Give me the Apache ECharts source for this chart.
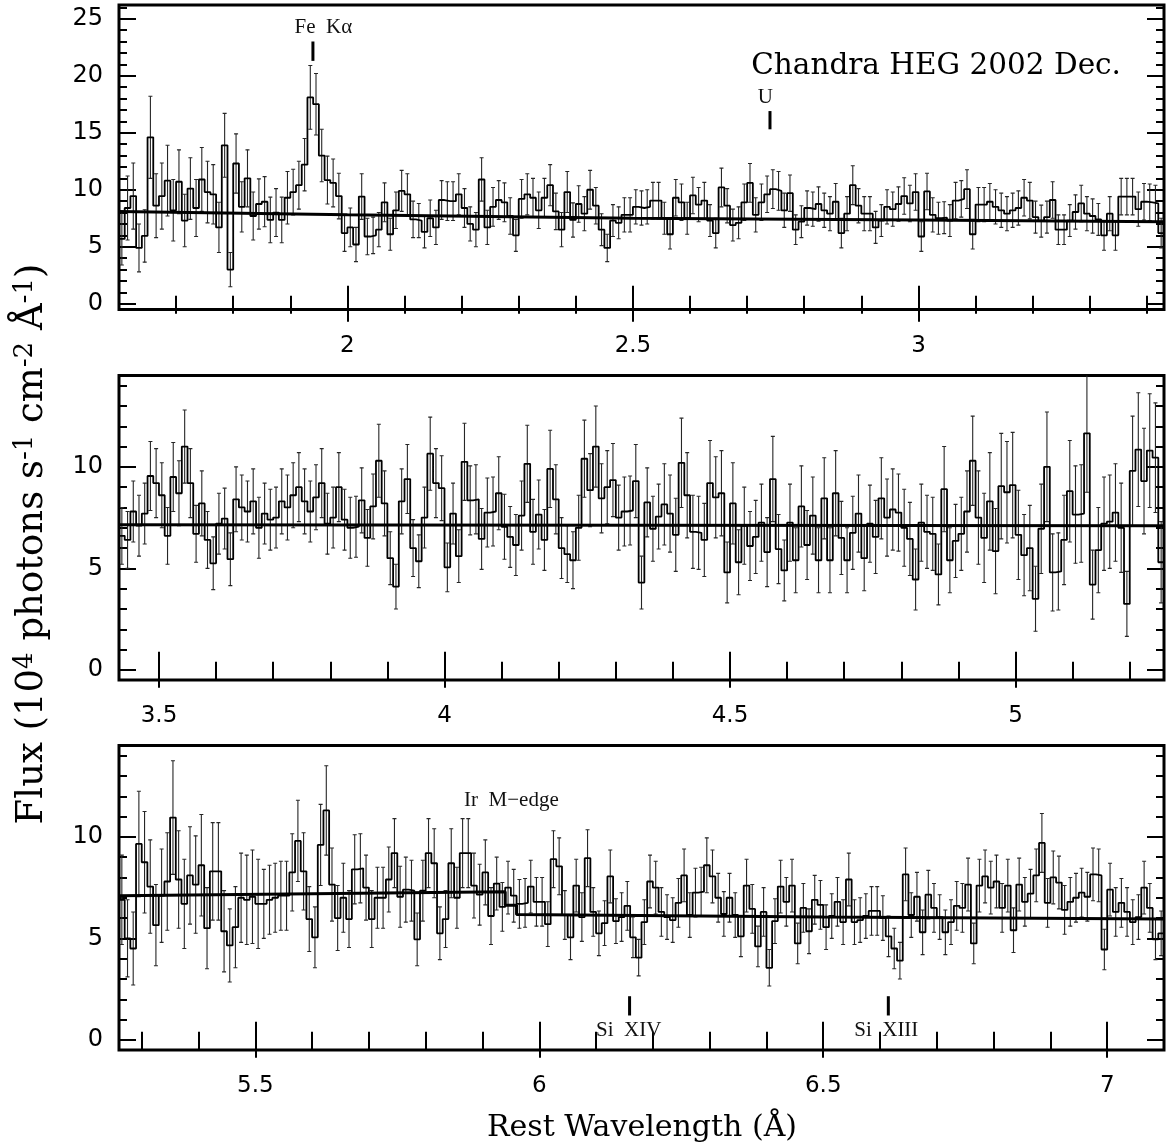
<!DOCTYPE html>
<html><head><meta charset="utf-8">
<script src="https://cdn.jsdelivr.net/npm/echarts@6/dist/echarts.min.js"></script>
<style>html,body{margin:0;padding:0;background:#fff}#c{width:1166px;height:1148px}</style>
</head><body><div id="c"></div>
<script>
// ---------------- data ----------------
const binWidth = 0.01;
const panelStart = [1.60, 3.43, 5.26];
const panelEnd = [3.43, 5.26, 7.10];
const panelYMin = [-0.5, -0.5, -0.5];
const panelYMax = [26.2, 14.5, 14.5];

const p1Flux = [5.7,8.4,9.45,4.9,5.95,14.6,8.6,9.45,10.8,8.2,
10.7,7.3,10.1,8.4,10.9,9.8,9.6,6.7,13.9,3.0,
12.3,8.5,11.0,7.7,8.75,8.95,7.35,8.0,7.35,9.3,
9.8,10.4,12.2,18.1,17.5,13.0,10.85,10.6,9.45,6.2,
6.7,5.2,9.4,5.9,6.0,6.5,8.9,6.1,8.2,9.9,
9.6,7.4,7.3,6.3,7.5,6.7,9.1,9.0,9.0,9.6,
8.4,7.0,6.5,10.9,6.7,8.5,9.1,8.9,7.7,6.0,
9.2,9.6,9.3,8.2,9.3,10.4,8.1,6.5,9.8,7.35,
8.75,7.9,10.0,8.6,6.5,4.9,7.3,7.1,7.8,7.8,
8.5,8.4,8.5,9.05,9.05,7.5,6.1,9.3,8.9,7.5,
9.5,8.7,9.05,7.3,6.2,10.2,8.6,6.9,7.1,8.9,
10.6,7.8,8.9,9.6,10.05,9.9,8.2,9.7,6.5,7.2,
8.4,8.3,8.75,8.2,7.9,8.95,6.2,7.9,10.4,8.6,
7.9,7.9,6.7,7.3,8.5,8.3,8.75,9.45,8.8,9.8,
5.9,9.85,7.8,7.5,7.55,7.3,9.05,9.2,10.05,6.1,
8.7,8.7,8.95,8.5,8.2,7.9,8.2,8.4,9.3,9.05,
7.6,7.25,7.6,9.1,6.5,6.5,7.3,8.05,8.8,7.9,
7.7,7.4,6.0,7.9,6.0,9.4,9.4,9.4,8.3,8.95,
8.9,8.8,6.2];
const p1Err = [2.3,2.8,2.9,2.1,2.3,3.6,2.8,2.9,3.1,2.7,
2.8,2.3,2.7,2.5,2.8,2.7,2.6,2.2,2.8,1.5,
2.6,2.2,2.5,2.1,2.2,2.2,2.0,2.1,2.0,2.3,
2.0,2.1,2.3,2.8,2.7,2.3,2.1,2.1,2.0,1.6,
1.7,1.5,2.0,1.6,1.6,1.5,1.7,1.4,1.6,1.8,
1.8,1.6,1.5,1.4,1.6,1.5,1.7,1.7,1.7,1.8,
1.7,1.5,1.5,1.9,1.5,1.7,1.7,1.7,1.6,1.4,
1.7,1.8,1.7,1.6,1.7,1.8,1.6,1.5,1.8,1.5,
1.6,1.5,1.7,1.6,1.4,1.2,1.4,1.4,1.5,1.5,
1.5,1.5,1.5,1.6,1.6,1.4,1.3,1.6,1.6,1.4,
1.6,1.5,1.6,1.4,1.3,1.7,1.5,1.4,1.4,1.6,
1.7,1.5,1.6,1.6,1.7,1.7,1.5,1.6,1.3,1.4,
1.5,1.5,1.5,1.5,1.5,1.6,1.3,1.5,1.7,1.5,
1.5,1.5,1.4,1.4,1.5,1.5,1.5,1.6,1.6,1.6,
1.3,1.6,1.5,1.4,1.4,1.4,1.6,1.6,1.7,1.3,
1.5,1.5,1.6,1.5,1.5,1.5,1.5,1.5,1.6,1.6,
1.4,1.4,1.4,1.6,1.3,1.3,1.4,1.5,1.6,1.5,
1.5,1.4,1.3,1.5,1.3,1.6,1.6,1.6,1.5,1.6,
1.6,1.6,1.3];

const p2Flux = [6.6,6.4,7.8,7.1,7.7,9.55,9.2,8.6,6.6,9.5,
8.7,11.0,9.2,6.7,8.2,6.4,5.25,7.2,7.45,5.45,
8.4,8.0,7.8,8.3,7.0,7.7,7.4,7.5,8.3,8.0,
8.6,9.0,8.3,7.8,8.5,9.2,7.2,7.5,9.0,7.4,
7.0,7.05,8.35,6.5,8.05,10.3,8.2,5.5,4.1,8.3,
9.4,6.0,5.35,7.5,10.65,9.2,8.95,5.05,7.7,5.6,
10.25,8.35,8.4,6.45,7.75,7.8,8.7,7.05,6.55,6.15,
7.6,10.15,6.8,7.65,6.4,9.9,8.4,6.0,5.7,5.4,
7.0,10.4,8.85,11.0,8.45,9.0,9.35,7.5,7.8,7.85,
9.3,4.3,8.25,6.95,7.55,8.15,7.7,6.65,10.2,8.6,
6.8,6.75,6.4,9.2,8.5,8.7,4.8,8.2,5.3,7.1,
6.1,6.55,7.25,5.8,9.4,5.95,4.9,7.25,5.4,8.05,
6.15,7.6,5.4,8.45,5.4,8.7,6.5,5.4,6.75,7.7,
5.5,7.2,6.55,8.45,7.5,7.9,7.75,7.0,6.45,4.45,
7.25,6.8,6.7,4.7,8.9,5.4,6.35,6.7,7.8,10.3,
7.5,6.5,8.3,5.85,9.05,8.75,9.1,6.65,5.65,6.0,
3.5,6.95,10.0,4.8,4.85,6.4,8.8,7.65,7.7,11.65,
4.2,5.9,7.2,7.3,7.75,7.0,3.25,9.8,10.85,9.3,
10.8,10.45,5.3];
const p2Err = [1.4,1.4,1.5,1.5,1.5,1.7,1.7,1.6,1.4,1.7,
1.6,1.8,1.7,1.4,1.6,1.4,1.3,1.5,1.5,1.3,
1.6,1.6,1.5,1.6,1.5,1.5,1.5,1.5,1.6,1.6,
1.6,1.7,1.6,1.5,1.6,1.7,1.5,1.5,1.7,1.5,
1.5,1.5,1.6,1.4,1.6,1.8,1.6,1.3,1.1,1.6,
1.7,1.4,1.3,1.5,1.8,1.7,1.6,1.2,1.5,1.3,
1.9,1.7,1.7,1.5,1.7,1.7,1.8,1.6,1.5,1.5,
1.7,1.9,1.6,1.7,1.5,1.9,1.7,1.5,1.4,1.4,
1.6,1.9,1.8,2.0,1.7,1.8,1.8,1.6,1.7,1.7,
1.8,1.3,1.7,1.6,1.6,2.0,1.9,1.8,2.2,2.1,
1.8,1.8,1.8,2.1,2.0,2.1,1.5,2.0,1.6,1.9,
1.7,1.8,1.9,1.7,2.1,1.7,1.5,1.9,1.6,2.0,
1.7,1.9,1.6,2.0,1.6,2.1,1.8,1.6,1.8,1.9,
1.6,1.9,1.8,2.0,1.9,2.0,1.9,1.9,1.8,1.5,
1.9,1.8,1.8,1.5,2.1,1.6,1.8,1.8,2.0,2.2,
2.3,2.2,2.4,2.1,2.6,2.5,2.6,2.2,2.0,2.1,
1.6,2.2,2.7,1.9,1.9,2.2,2.5,2.4,2.4,2.9,
1.7,2.1,2.3,2.3,2.4,2.2,1.6,2.7,2.8,2.6,
2.8,2.7,2.0];

const p3Flux = [6.9,5.0,4.5,9.65,8.75,7.55,5.65,7.1,7.8,10.95,
7.9,6.7,8.1,7.65,8.6,5.5,8.3,8.3,5.35,4.65,
5.55,7.0,6.9,7.05,6.7,6.7,6.9,7.0,7.1,7.1,
8.25,9.8,8.3,5.95,5.05,9.6,11.3,7.65,6.0,7.0,
5.95,8.4,8.45,7.5,5.95,7.0,7.0,7.9,9.2,7.05,
7.4,7.35,4.95,7.35,9.2,8.7,5.25,5.95,8.7,7.0,
9.2,9.2,7.6,7.15,8.25,6.1,7.7,6.55,7.5,7.1,
6.7,6.75,7.55,6.8,6.8,5.7,8.9,8.55,6.15,5.05,
7.6,6.05,8.95,6.3,5.25,5.75,8.05,5.85,6.05,6.6,
5.05,4.05,5.8,7.8,7.5,6.3,6.05,5.9,6.75,8.1,
6.15,7.25,7.3,8.6,8.05,7.0,6.2,7.0,6.15,5.1,
7.6,6.45,4.6,6.3,3.55,5.85,7.55,6.8,7.6,4.75,
6.5,5.35,6.9,6.65,5.55,6.1,6.8,5.8,7.9,5.8,
5.9,6.1,6.35,6.35,6.0,5.1,4.5,3.9,8.15,6.15,
7.05,5.3,7.15,6.5,6.05,5.3,5.8,6.6,6.5,7.65,
4.75,7.6,8.05,7.5,7.8,6.5,7.6,5.4,7.65,6.8,
7.2,8.1,9.7,6.75,8.0,7.75,6.4,6.8,7.0,7.25,
7.05,8.15,8.1,4.45,7.4,6.3,6.75,6.3,5.8,6.05,
7.5,6.5,4.95,5.25];
const p3Err = [2.2,1.9,1.8,2.6,2.5,2.3,2.0,2.3,2.4,2.8,
2.4,2.2,2.4,2.4,2.5,2.0,2.4,2.4,2.0,1.8,
2.0,2.2,2.2,2.3,2.2,1.7,1.7,1.7,1.7,1.7,
1.9,2.0,1.9,1.6,1.5,2.0,2.2,1.8,1.6,1.7,
1.4,1.7,1.7,1.6,1.4,1.5,1.5,1.6,1.7,1.5,
1.6,1.5,1.3,1.5,1.7,1.7,1.3,1.4,1.7,1.5,
1.7,1.7,1.6,1.5,1.6,1.4,1.3,1.2,1.3,1.3,
1.2,1.2,1.3,1.2,1.2,1.1,1.4,1.4,1.2,1.1,
1.3,1.2,1.4,1.2,1.1,1.1,1.3,1.1,1.2,1.2,
1.0,0.9,1.1,1.3,1.3,1.2,1.1,1.1,1.2,1.3,
1.1,1.2,1.2,1.35,1.3,1.2,1.1,1.2,1.1,1.0,
1.3,1.2,1.0,1.2,0.9,1.1,1.3,1.2,1.3,1.0,
1.2,1.1,1.2,1.2,1.1,1.1,1.2,1.1,1.3,1.1,
1.1,1.1,1.2,1.2,1.1,1.0,1.0,0.9,1.3,1.1,
1.2,1.1,1.2,1.2,1.1,1.1,1.1,1.2,1.2,1.3,
1.0,1.3,1.3,1.3,1.3,1.2,1.3,1.1,1.3,1.2,
1.2,1.3,1.45,1.2,1.3,1.3,1.2,1.2,1.2,1.2,
1.2,1.3,1.3,1.0,1.3,1.2,1.2,1.2,1.1,1.1,
1.3,1.2,1.0,1.1];

// continuum model
const p1ModelX = [1.60, 2.00, 2.50, 3.00, 3.43];
const p1ModelY = [8.1, 7.8, 7.5, 7.35, 7.2];
const p2ModelX = [3.43, 5.26];
const p2ModelY = [7.15, 7.1];
const p3ModelX = [5.26, 5.94, 5.94, 5.96, 5.96, 6.50, 7.10];
const p3ModelY = [7.1, 7.3, 6.63, 6.63, 6.18, 6.05, 5.95];

// tick values
const xMajor = [[2.0, 2.5, 3.0], [3.5, 4.0, 4.5, 5.0], [5.5, 6.0, 6.5, 7.0]];
const xMinor = [
  [1.7,1.8,1.9,2.0,2.1,2.2,2.3,2.4,2.5,2.6,2.7,2.8,2.9,3.0,3.1,3.2,3.3,3.4],
  [3.5,3.6,3.7,3.8,3.9,4.0,4.1,4.2,4.3,4.4,4.5,4.6,4.7,4.8,4.9,5.0,5.1,5.2],
  [5.3,5.4,5.5,5.6,5.7,5.8,5.9,6.0,6.1,6.2,6.3,6.4,6.5,6.6,6.7,6.8,6.9,7.0]
];
const yMajor = [[0,5,10,15,20,25], [0,5,10], [0,5,10]];
const yMinor = [
  [1,2,3,4,5,6,7,8,9,10,11,12,13,14,15,16,17,18,19,20,21,22,23,24,25,26],
  [1,2,3,4,5,6,7,8,9,10,11,12,13,14],
  [1,2,3,4,5,6,7,8,9,10,11,12,13,14]
];

// line annotations
const annPanel = [0, 0, 2, 2, 2];
const annText = ['Fe\u2002K\u03b1', 'U', 'Ir\u2002M\u2212edge', 'Si\u2002XIV', 'Si\u2002XIII'];
const annTextX = [1.958, 2.732, 5.951, 6.1575, 6.611];
const annTextY = [24.2, 18.1, 11.77, 0.48, 0.48];
const annTickX = [1.9396, 2.740, null, 6.159, 6.6146];
const annTickLo = [21.3, 15.3, null, 1.2, 1.2];
const annTickHi = [23.0, 16.9, null, 2.15, 2.15];

const plotTitle = 'Chandra HEG 2002 Dec.';
const xTitle = 'Rest Wavelength (\u00c5)';

// ---------------- chart ----------------
const fluxes = [p1Flux, p2Flux, p3Flux];
const errs = [p1Err, p2Err, p3Err];
const modelsX = [p1ModelX, p2ModelX, p3ModelX];
const modelsY = [p1ModelY, p2ModelY, p3ModelY];
const gridTops = [5, 375.5, 745.5];
const serifFont = '"DejaVu Serif"';

const grids = [], xAxes = [], yAxes = [], series = [];
const tickStyle = {color: '#000', width: 2};
for (let p = 0; p < 3; p++) {
  grids.push({left: 119, right: 2, top: gridTops[p], height: 304.5, show: true,
    borderColor: '#000', borderWidth: 3, backgroundColor: 'transparent', containLabel: false});
  const xb = {gridIndex: p, type: 'value', min: panelStart[p], max: panelEnd[p],
    axisLine: {show: false}, splitLine: {show: false}};
  xAxes.push(Object.assign({}, xb, {position: 'bottom',
    axisTick: {show: true, inside: true, length: 18, lineStyle: tickStyle, customValues: xMajor[p]},
    axisLabel: {show: true, customValues: xMajor[p], margin: 25, color: '#000',
      fontFamily: 'DejaVu Sans', fontSize: 23, formatter: v => String(v)}}));
  xAxes.push(Object.assign({}, xb, {position: 'bottom',
    axisTick: {show: true, inside: true, length: 8, lineStyle: tickStyle, customValues: xMinor[p]},
    axisLabel: {show: false}}));
  xAxes.push(Object.assign({}, xb, {position: 'top',
    axisTick: {show: true, inside: true, length: 18, lineStyle: tickStyle, customValues: xMajor[p]},
    axisLabel: {show: false}}));
  xAxes.push(Object.assign({}, xb, {position: 'top',
    axisTick: {show: true, inside: true, length: 10, lineStyle: tickStyle, customValues: xMinor[p]},
    axisLabel: {show: false}}));
  const yb = {gridIndex: p, type: 'value', min: panelYMin[p], max: panelYMax[p],
    axisLine: {show: false}, splitLine: {show: false}};
  yAxes.push(Object.assign({}, yb, {position: 'left',
    axisTick: {show: true, inside: true, length: 17, lineStyle: tickStyle, customValues: yMajor[p]},
    axisLabel: {show: true, customValues: yMajor[p], margin: 16, color: '#000',
      fontFamily: 'DejaVu Sans', fontSize: 24}}));
  yAxes.push(Object.assign({}, yb, {position: 'left',
    axisTick: {show: true, inside: true, length: 8, lineStyle: tickStyle, customValues: yMinor[p]},
    axisLabel: {show: false}}));
  yAxes.push(Object.assign({}, yb, {position: 'right',
    axisTick: {show: true, inside: true, length: 17, lineStyle: tickStyle, customValues: yMajor[p]},
    axisLabel: {show: false}}));
  yAxes.push(Object.assign({}, yb, {position: 'right',
    axisTick: {show: true, inside: true, length: 8, lineStyle: tickStyle, customValues: yMinor[p]},
    axisLabel: {show: false}}));

  const ax = 4 * p;
  const fl = fluxes[p], er = errs[p], s0 = panelStart[p];
  // error bars
  const errData = fl.map((v, i) => [s0 + (i + 0.5) * binWidth, v - er[i], v + er[i]]);
  series.push({type: 'custom', xAxisIndex: ax, yAxisIndex: ax, clip: true, silent: true,
    data: errData, z: 2,
    renderItem: function (params, api) {
      const x = api.value(0);
      const a = api.coord([x, api.value(1)]), b = api.coord([x, api.value(2)]);
      const st = {stroke: '#262626', lineWidth: 1.1};
      return {type: 'group', children: [
        {type: 'line', shape: {x1: a[0], y1: a[1], x2: b[0], y2: b[1]}, style: st},
        {type: 'line', shape: {x1: a[0] - 2, y1: a[1], x2: a[0] + 2, y2: a[1]}, style: st},
        {type: 'line', shape: {x1: b[0] - 2, y1: b[1], x2: b[0] + 2, y2: b[1]}, style: st}
      ]};
    }});
  // histogram
  const stepData = fl.map((v, i) => [s0 + i * binWidth, v]);
  stepData.push([s0 + fl.length * binWidth, fl[fl.length - 1]]);
  series.push({type: 'line', step: 'end', xAxisIndex: ax, yAxisIndex: ax, data: stepData,
    showSymbol: false, symbol: 'none', z: 3, clip: true, silent: true,
    lineStyle: {color: '#000', width: 1.8}});
  // model
  series.push({type: 'line', xAxisIndex: ax, yAxisIndex: ax, z: 4, clip: true, silent: true,
    data: modelsX[p].map((x, i) => [x, modelsY[p][i]]), showSymbol: false, symbol: 'none',
    lineStyle: {color: '#000', width: 3}});
}

// annotations
for (let p = 0; p < 3; p++) {
  const idx = annPanel.map((q, i) => q === p ? i : -1).filter(i => i >= 0);
  if (!idx.length) continue;
  const ax = 4 * p;
  series.push({type: 'custom', xAxisIndex: ax, yAxisIndex: ax, z: 6, silent: true,
    data: idx.map(i => [annTextX[i], annTextY[i], annTickX[i] == null ? NaN : annTickX[i],
      annTickLo[i] == null ? NaN : annTickLo[i], annTickHi[i] == null ? NaN : annTickHi[i], i]),
    renderItem: function (params, api) {
      const i = api.value(5);
      const t = api.coord([api.value(0), api.value(1)]);
      const ch = [{type: 'text', x: t[0], y: t[1], style: {text: annText[i], fill: '#111',
        font: '21px "Liberation Serif"', textAlign: 'center', textVerticalAlign: 'middle'}}];
      const tx = api.value(2);
      if (!isNaN(tx)) {
        const a = api.coord([tx, api.value(3)]), b = api.coord([tx, api.value(4)]);
        ch.push({type: 'line', shape: {x1: a[0], y1: a[1], x2: b[0], y2: b[1]},
          style: {stroke: '#000', lineWidth: 3}});
      }
      return {type: 'group', children: ch};
    }});
}

const chart = echarts.init(document.getElementById('c'), null, {renderer: 'canvas'});
chart.setOption({
  animation: false,
  backgroundColor: '#fff',
  grid: grids, xAxis: xAxes, yAxis: yAxes, series: series,
  graphic: [
    {type: 'text', x: 1121, y: 66, style: {text: plotTitle, fill: '#000',
      font: '29.5px ' + serifFont, textAlign: 'right', textVerticalAlign: 'middle'}},
    {type: 'text', x: 642, y: 1128, style: {text: xTitle, fill: '#000',
      font: '30px ' + serifFont, textAlign: 'center', textVerticalAlign: 'middle'}},
    {type: 'text', x: 32, y: 544, rotation: Math.PI / 2, style: {
      text: '{a|Flux (10}{s|4}{a| photons s}{s|-1}{a| cm}{s|-2}{a| \u00c5}{s|-1}{a|)}',
      textAlign: 'center', textVerticalAlign: 'middle', fill: '#000',
      rich: {
        a: {font: '37px ' + serifFont, lineHeight: 40, fill: '#000'},
        s: {font: '26px ' + serifFont, lineHeight: 26, verticalAlign: 'top', fill: '#000'}
      }}}
  ]
});
</script>
</body></html>
